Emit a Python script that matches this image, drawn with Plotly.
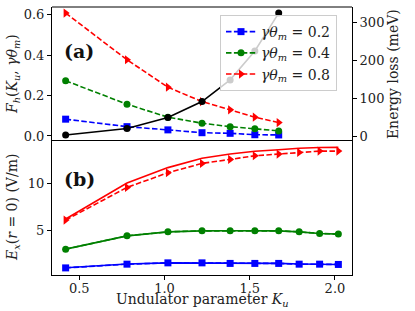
import plotly.graph_objects as go

# ---- data ----
k_top = [0.42, 0.78, 1.02, 1.22, 1.385, 1.53, 1.67]
fh_02 = [0.083, 0.046, 0.030, 0.016, 0.013, 0.006, 0.005]
fh_04 = [0.273, 0.157, 0.093, 0.063, 0.046, 0.035, 0.025]
fh_08 = [0.608, 0.377, 0.241, 0.170, 0.129, 0.093, 0.066]
energy_loss = [4, 21, 50, 92, 149, 225, 325]

k_bot = [0.42, 0.78, 1.02, 1.22, 1.385, 1.53, 1.67, 1.79, 1.91, 2.02]
ex_02_solid = [0.98, 1.38, 1.50, 1.50, 1.45, 1.45, 1.44, 1.38, 1.36, 1.33]
ex_02_dash = [0.96, 1.36, 1.50, 1.50, 1.44, 1.44, 1.44, 1.36, 1.36, 1.33]
ex_04_solid = [2.97, 4.39, 4.82, 4.93, 4.94, 4.93, 4.93, 4.82, 4.65, 4.58]
ex_04_dash = [2.97, 4.39, 4.82, 4.93, 4.93, 4.93, 4.93, 4.82, 4.65, 4.58]
ex_08_solid = [6.2, 10.05, 11.7, 12.7, 13.15, 13.45, 13.62, 13.78, 13.85, 13.87]
ex_08_dash = [6.08, 9.58, 11.15, 12.15, 12.58, 12.97, 13.15, 13.33, 13.47, 13.47]

x_ticks = [0.5, 1.0, 1.5, 2.0]
fh_ticks = [0.0, 0.2, 0.4, 0.6]
el_ticks = [0, 100, 200, 300]
ex_ticks = [5, 10]

labels = ["<i>γθ</i><sub><i>m</i></sub> = 0.2",
          "<i>γθ</i><sub><i>m</i></sub> = 0.4",
          "<i>γθ</i><sub><i>m</i></sub> = 0.8"]
colors = ["#0000ff", "#008000", "#ff0000"]
symbols = ["square", "circle", "triangle-right"]
msizes = [7, 7, 8]

FONT = "DejaVu Serif"
FS = 14
TFS = 13
DASH = "5.5px,2.4px"
TXT = "#222"

fig = go.Figure()

for ys, lab, c, s, ms in zip([fh_02, fh_04, fh_08], labels, colors, symbols, msizes):
    fig.add_trace(go.Scatter(x=k_top, y=ys, mode="lines+markers", name=lab,
                             line=dict(color=c, width=1.6, dash=DASH),
                             marker=dict(symbol=s, size=ms, color=c),
                             xaxis="x2", yaxis="y2"))

fig.add_trace(go.Scatter(x=k_top, y=energy_loss, mode="lines+markers", showlegend=False,
                         line=dict(color="black", width=1.6),
                         marker=dict(symbol="circle", size=7, color="black"),
                         xaxis="x2", yaxis="y3"))

for sol, das, c, s, ms in zip([ex_02_solid, ex_04_solid, ex_08_solid],
                              [ex_02_dash, ex_04_dash, ex_08_dash], colors, symbols, msizes):
    fig.add_trace(go.Scatter(x=k_bot, y=sol, mode="lines", showlegend=False,
                             line=dict(color=c, width=1.6), xaxis="x", yaxis="y"))
    fig.add_trace(go.Scatter(x=k_bot, y=das, mode="lines+markers", showlegend=False,
                             line=dict(color=c, width=1.6, dash=DASH),
                             marker=dict(symbol=s, size=ms, color=c),
                             xaxis="x", yaxis="y"))

axis_common = dict(showline=True, linecolor="black", linewidth=1, mirror=True,
                   showgrid=False, zeroline=False, ticks="outside", ticklen=4,
                   automargin=False,
                   tickcolor="black", tickfont=dict(family=FONT, size=TFS, color=TXT))

fig.update_layout(
    width=415, height=311, autosize=False,
    margin=dict(l=52, r=63, t=7, b=36, pad=0),
    plot_bgcolor="white", paper_bgcolor="white",
    font=dict(family=FONT, size=FS, color=TXT),
    xaxis=dict(axis_common, domain=[0, 1], range=[0.34, 2.10], anchor="y",
               tickvals=x_ticks, tickformat=".1f", ticklabelstandoff=-3),
    yaxis=dict(axis_common, domain=[0, 0.5], range=[0.2, 14.55], anchor="x",
               tickvals=ex_ticks),
    xaxis2=dict(axis_common, domain=[0, 1], range=[0.34, 2.10], anchor="y2",
                matches="x", showticklabels=False, ticks="", showline=False),
    yaxis2=dict(axis_common, domain=[0.5, 1], range=[-0.025, 0.638], anchor="x2",
                tickvals=fh_ticks, tickformat=".1f", mirror=False),
    yaxis3=dict(axis_common, overlaying="y2", side="right", anchor="x2",
                range=[-12, 341], tickvals=el_ticks, mirror=False),
    legend=dict(x=0.56, y=0.97, xanchor="left", yanchor="top",
                bgcolor="rgba(255,255,255,0.8)", bordercolor="#cccccc", borderwidth=1,
                font=dict(family=FONT, size=FS, color=TXT), tracegroupgap=0),
    showlegend=True,
)

fig.add_shape(type="line", xref="paper", yref="paper", x0=0, x1=1, y0=1, y1=1,
              line=dict(color="black", width=1))

fig.add_annotation(text="<b>(a)</b>", xref="paper", yref="paper", x=0.033, y=0.836,
                   xanchor="left", yanchor="middle", showarrow=False,
                   font=dict(family=FONT, size=19, color="#111"))
fig.add_annotation(text="<b>(b)</b>", xref="paper", yref="paper", x=0.033, y=0.358,
                   xanchor="left", yanchor="middle", showarrow=False,
                   font=dict(family=FONT, size=19, color="#111"))

fig.add_annotation(text="Undulator parameter <i>K</i><sub><i>u</i></sub>",
                   xref="paper", yref="paper", x=0.5, y=-0.133,
                   xanchor="center", yanchor="bottom", showarrow=False,
                   font=dict(family=FONT, size=FS, color=TXT))
fig.add_annotation(text="<i>F</i><sub><i>h</i></sub>(<i>K</i><sub><i>u</i></sub>, <i>γθ</i><sub><i>m</i></sub>)",
                   xref="paper", yref="paper", x=-0.13, y=0.75, textangle=-90,
                   xanchor="center", yanchor="middle", showarrow=False,
                   font=dict(family=FONT, size=FS, color=TXT))
fig.add_annotation(text="<i>E</i><sub><i>x</i></sub>(<i>r</i> = 0) (V/m)",
                   xref="paper", yref="paper", x=-0.13, y=0.25, textangle=-90,
                   xanchor="center", yanchor="middle", showarrow=False,
                   font=dict(family=FONT, size=FS, color=TXT))
fig.add_annotation(text="Energy loss (meV)",
                   xref="paper", yref="paper", x=1.137, y=0.75, textangle=-90,
                   xanchor="center", yanchor="middle", showarrow=False,
                   font=dict(family=FONT, size=FS, color=TXT))

fig.write_html("out.html", config={"displayModeBar": False},
               post_script="document.body.style.margin='0px';document.body.style.padding='0px';")
